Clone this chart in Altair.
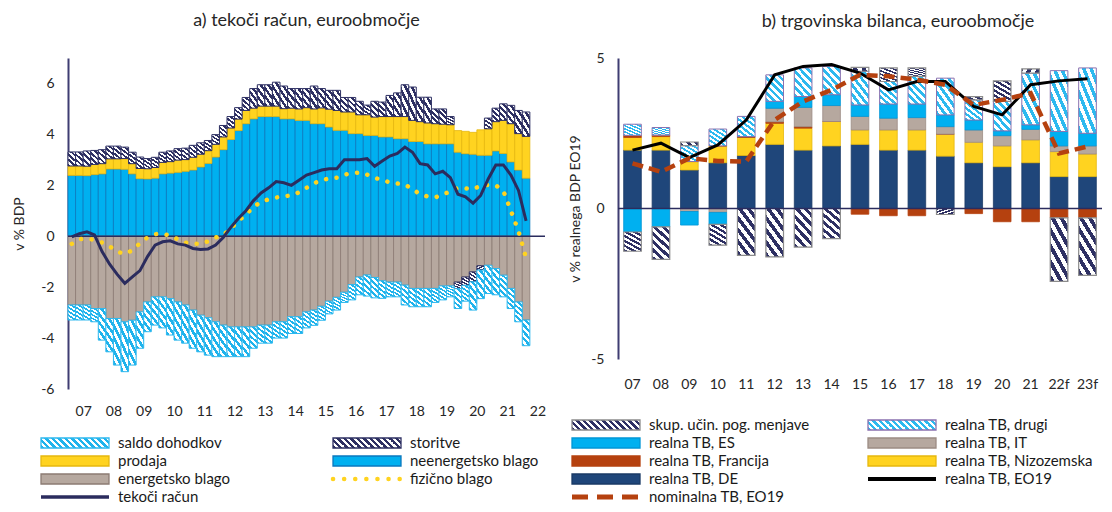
import json
import altair as alt
import pandas as pd

FONT = "Lato"
TXT = "#262626"
NAVY = "#2B2C5E"

# ---------------- a) tekoči račun, quarterly 2007Q1-2022Q1 ----------------
quarters = [f"{y}Q{q}" for y in range(2007, 2023) for q in (1, 2, 3, 4)][:61]
year_labels_a = ["07", "08", "09", "10", "11", "12", "13", "14", "15", "16",
                 "17", "18", "19", "20", "21", "22"]

neenergetsko_blago = [2.39, 2.39, 2.38, 2.42, 2.45, 2.64, 2.64, 2.63, 2.45, 2.26,
                      2.25, 2.28, 2.45, 2.48, 2.51, 2.55, 2.60, 2.72, 2.86, 3.11,
                      3.40, 3.80, 4.15, 4.42, 4.61, 4.70, 4.70, 4.70, 4.61, 4.61,
                      4.55, 4.55, 4.42, 4.42, 4.29, 4.16, 4.16, 4.03, 4.03, 3.96,
                      3.96, 3.90, 3.90, 3.83, 3.83, 3.72, 3.72, 3.63, 3.63, 3.63,
                      3.63, 3.30, 3.24, 3.22, 3.18, 3.18, 3.35, 3.25, 2.92, 2.60,
                      2.28]
prodaja = [0.37, 0.37, 0.37, 0.40, 0.40, 0.40, 0.40, 0.42, 0.40, 0.40,
           0.40, 0.42, 0.45, 0.45, 0.48, 0.46, 0.50, 0.50, 0.50, 0.50,
           0.50, 0.45, 0.45, 0.52, 0.42, 0.41, 0.41, 0.41, 0.40, 0.42,
           0.45, 0.50, 0.58, 0.62, 0.70, 0.78, 0.72, 0.85, 0.74, 0.81,
           0.72, 0.80, 0.80, 0.87, 0.87, 0.83, 0.78, 0.82, 0.79, 0.77,
           0.75, 0.85, 0.88, 0.86, 1.00, 1.04, 1.15, 1.30, 1.50, 1.43,
           1.64]
storitve = [0.55, 0.55, 0.60, 0.55, 0.55, 0.50, 0.50, 0.45, 0.45, 0.45,
            0.40, 0.40, 0.40, 0.42, 0.45, 0.45, 0.47, 0.45, 0.40, 0.38,
            0.45, 0.45, 0.45, 0.51, 0.77, 0.84, 0.84, 0.94, 0.89, 0.77,
            0.80, 0.75, 0.90, 0.76, 0.74, 0.79, 0.57, 0.57, 0.53, 0.38,
            0.62, 0.57, 0.83, 0.93, 1.25, 1.31, 0.96, 1.01, 0.58, 0.60,
            0.32, -0.26, -0.33, -0.39, -0.17, 0.42, 0.53, 0.65, 0.72, 0.91,
            0.96]
energetsko_blago = [-2.70, -2.70, -2.70, -2.84, -2.84, -3.23, -3.23, -3.36, -3.30, -2.97,
                    -2.58, -2.38, -2.38, -2.45, -2.58, -2.70, -2.90, -3.10, -3.20, -3.36,
                    -3.49, -3.56, -3.56, -3.56, -3.56, -3.49, -3.49, -3.36, -3.36, -3.16,
                    -3.16, -2.97, -2.90, -2.75, -2.55, -2.40, -2.20, -1.90, -1.60, -1.52,
                    -1.62, -1.75, -1.80, -1.80, -1.92, -2.05, -2.05, -2.05, -2.05, -1.95,
                    -1.95, -1.80, -1.60, -1.40, -1.16, -1.14, -1.27, -1.53, -2.05, -2.58,
                    -3.29]
saldo_dohodkov = [-0.59, -0.59, -0.59, -0.52, -1.24, -1.31, -1.83, -1.96, -1.76, -1.43,
                  -1.17, -1.11, -1.22, -1.43, -1.50, -1.50, -1.50, -1.44, -1.47, -1.37,
                  -1.24, -1.17, -1.17, -1.17, -0.84, -0.71, -0.71, -0.64, -0.64, -0.66,
                  -0.66, -0.63, -0.60, -0.55, -0.50, -0.50, -0.40, -0.60, -0.70, -0.83,
                  -0.80, -0.69, -0.58, -0.58, -0.78, -0.72, -0.72, -0.72, -0.55, -0.55,
                  -0.43, -0.78, -0.62, -1.11, -1.12, -1.11, -1.03, -0.85, -0.79, -0.78,
                  -1.01]
fizicno_blago = [-0.30, -0.12, -0.08, -0.15, -0.25, -0.40, -0.60, -0.70, -0.55, -0.28,
                 -0.05, 0.08, 0.10, 0.02, -0.12, -0.25, -0.30, -0.30, -0.20, -0.05,
                 0.05, 0.30, 0.60, 0.85, 1.15, 1.35, 1.45, 1.52, 1.57, 1.60,
                 1.72, 1.90, 2.08, 2.20, 2.27, 2.30, 2.42, 2.47, 2.50, 2.42,
                 2.30, 2.20, 2.12, 2.07, 2.03, 1.85, 1.65, 1.56, 1.52, 1.65,
                 1.75, 1.90, 1.88, 1.85, 1.98, 2.02, 2.00, 1.78, 1.00, 0.20,
                 -0.85]
tekoci_racun = [-0.03, 0.10, 0.17, 0.05, -0.60, -1.10, -1.50, -1.85, -1.60, -1.35,
                -0.80, -0.35, -0.22, -0.18, -0.30, -0.35, -0.48, -0.52, -0.50, -0.35,
                -0.05, 0.35, 0.70, 1.00, 1.40, 1.70, 1.90, 2.15, 2.10, 2.00,
                2.20, 2.40, 2.50, 2.60, 2.65, 2.65, 3.00, 3.00, 3.00, 3.05,
                2.75, 2.95, 3.15, 3.25, 3.50, 3.30, 2.85, 2.80, 2.45, 2.55,
                2.30, 1.65, 1.55, 1.30, 1.60, 2.25, 2.80, 2.80, 2.40, 1.80,
                0.60]

# ---------------- b) trgovinska bilanca, annual ----------------
years_b = ["07", "08", "09", "10", "11", "12", "13", "14", "15", "16", "17",
           "18", "19", "20", "21", "22f", "23f"]
tb_de = [1.94, 1.94, 1.28, 1.52, 1.76, 2.13, 1.94, 2.08, 2.13, 1.94, 1.94, 1.74, 1.52, 1.39, 1.52, 1.06, 1.06]
tb_nl = [0.42, 0.45, 0.28, 0.56, 0.60, 0.70, 0.73, 0.81, 0.48, 0.67, 0.67, 0.73, 0.68, 0.69, 0.76, 0.83, 0.75]
tb_fr = [0.07, 0.05, 0.00, 0.00, 0.03, 0.05, 0.05, 0.00, -0.19, -0.24, -0.24, 0.00, -0.17, -0.44, -0.44, -0.31, -0.31]
tb_it = [0.00, 0.00, -0.10, -0.13, 0.00, 0.45, 0.64, 0.53, 0.45, 0.39, 0.41, 0.25, 0.41, 0.34, 0.35, 0.19, 0.27]
tb_es = [-0.78, -0.61, -0.45, -0.40, 0.00, 0.23, 0.36, 0.36, 0.38, 0.47, 0.45, 0.39, 0.33, 0.16, 0.15, 0.48, 0.42]
tb_drugi = [0.37, 0.25, 0.53, 0.56, 0.67, 0.88, 0.95, 0.94, 1.12, 0.75, 0.92, 1.22, 0.67, 0.98, 1.72, 2.02, 2.17]
skup_ucin = [-0.64, -1.08, 0.12, -0.69, -1.56, -1.61, -1.28, -1.00, 0.13, 0.45, 0.28, -0.20, 0.11, 0.68, 0.14, -2.11, -1.91]
realna_eo19 = [1.94, 2.17, 1.69, 2.11, 2.94, 4.44, 4.72, 4.78, 4.50, 3.94, 4.22, 4.22, 3.39, 3.11, 4.11, 4.24, 4.31]
nominalna_eo19 = [1.50, 1.22, 1.67, 1.58, 1.56, 2.94, 3.56, 3.94, 4.44, 4.39, 4.28, 4.11, 3.44, 3.61, 3.83, 1.83, 2.06]

# ---------------- legend entries ----------------
legend_labels = ["saldo dohodkov", "storitve", "prodaja", "neenergetsko blago",
                 "energetsko blago", "fizično blago", "tekoči račun",
                 "skup. učin. pog. menjave", "realna TB, drugi", "realna TB, ES",
                 "realna TB, IT", "realna TB, Francija", "realna TB, Nizozemska",
                 "realna TB, DE", "realna TB, EO19", "nominalna TB, EO19"]
legend_cols = [0, 1, 0, 1, 0, 1, 0, 2, 3, 2, 3, 2, 3, 2, 3, 2]
legend_rows = [1, 1, 2, 2, 3, 3, 4, 0, 0, 1, 1, 2, 2, 3, 3, 4]

# ---------------- styles ----------------
C_LBLUE = "#00B0F0"
C_YEL = "#FFD320"
C_TAUPE = "#B6A89F"
C_RUST = "#B5410F"
C_DE = "#1F467A"
C_HNAVY = "#2E3063"


def hatch(c1, c2, n, r):
    s = (1 + r) / (1 + r * r)
    stops = []
    for k in range(n):
        a, m, b = k / n, (k + 0.5) / n, (k + 1) / n
        stops += [alt.GradientStop(offset=a, color=c1), alt.GradientStop(offset=m, color=c1),
                  alt.GradientStop(offset=m, color=c2), alt.GradientStop(offset=b, color=c2)]
    return alt.LinearGradient(gradient="linear", stops=stops, x1=0, y1=1, x2=s, y2=1 - s * r)


# ================= panel a =================
qt = [2007 + k / 4 for k in range(len(quarters))]
comp_a = [("neenergetsko blago", neenergetsko_blago, 1), ("energetsko blago", energetsko_blago, 2),
          ("prodaja", prodaja, 3), ("storitve", storitve, 4), ("saldo dohodkov", saldo_dohodkov, 5)]
rows = []
for name, vals, o in comp_a:
    for q, t, v in zip(quarters, qt, vals):
        rows.append({"q": q, "t0": t, "t1": t + 0.25, "series": name, "ord": o, "value": v})
df_a = pd.DataFrame(rows)
lines_a = pd.DataFrame({"q": quarters, "tc": [t + 0.125 for t in qt],
                        "tekoci": tekoci_racun, "fizicno": fizicno_blago})

xa_scale = alt.Scale(domain=[2007, 2022.75], nice=False, zero=False)
xa_axis = alt.Axis(values=[2007.5 + k for k in range(len(year_labels_a))],
                   labelExpr=json.dumps(year_labels_a) + "[floor(datum.value) - 2007]",
                   grid=False, ticks=False, domain=False, labelPadding=15,
                   labelFont=FONT, labelFontSize=14, labelColor=TXT, title=None)
ya_scale = alt.Scale(domain=[-6, 7], nice=False, zero=False)
ya_axis = alt.Axis(values=[-6, -4, -2, 0, 2, 4, 6], labelExpr="toString(datum.value)",
                   grid=False, ticks=False,
                   domainColor="#3F3D72", domainWidth=2, labelPadding=14,
                   labelFont=FONT, labelFontSize=14, labelColor=TXT,
                   title="v % BDP", titleFont=FONT, titleFontSize=14, titleFontWeight="normal",
                   titleColor=TXT, titlePadding=14)

base_a = alt.Chart(df_a).transform_stack(
    stack="value", groupby=["q"], as_=["y0", "y1"], offset="zero",
    sort=[alt.SortField("ord", "ascending")])


def bar_a(name, **mk):
    return base_a.transform_filter(alt.datum.series == name).mark_bar(**mk).encode(
        x=alt.X("t0:Q", scale=xa_scale, axis=xa_axis),
        x2="t1:Q",
        y=alt.Y("y0:Q", scale=ya_scale, axis=ya_axis),
        y2="y1:Q")


ex_a = alt.X("tc:Q", scale=xa_scale, axis=xa_axis)
layers_a = [
    bar_a("neenergetsko blago", fill=C_LBLUE, stroke="#0A78BE", strokeWidth=0.8),
    bar_a("energetsko blago", fill=C_TAUPE, stroke="#8C7B73", strokeWidth=0.8),
    bar_a("prodaja", fill=C_YEL, stroke="#E6B80E", strokeWidth=0.8),
    bar_a("storitve", fill=hatch(C_HNAVY, "#FFFFFF", 4, 2.0), stroke=C_HNAVY, strokeWidth=1),
    bar_a("saldo dohodkov", fill=hatch("#1FB3EC", "#FFFFFF", 5, 3.0), stroke="#2DB8EE", strokeWidth=1),
    alt.Chart(pd.DataFrame({"z": [0]})).mark_rule(color=NAVY, strokeWidth=1.6).encode(
        y=alt.Y("z:Q", scale=ya_scale, axis=ya_axis)),
    alt.Chart(lines_a).mark_line(color=C_YEL, strokeWidth=4.5, strokeDash=[0.1, 10.5],
                                 strokeCap="round").encode(
        x=ex_a, y=alt.Y("fizicno:Q", scale=ya_scale, axis=ya_axis)),
    alt.Chart(lines_a).mark_line(color=NAVY, strokeWidth=3).encode(
        x=ex_a, y=alt.Y("tekoci:Q", scale=ya_scale, axis=ya_axis)),
]
left = alt.layer(*layers_a).properties(
    width=477, height=331,
    title=alt.TitleParams("a) tekoči račun, euroobmočje", font=FONT, fontSize=18,
                          fontWeight="normal", color=TXT, anchor="middle", frame="group",
                          offset=28))

# ================= panel b =================
comp_b = [("realna TB, DE", tb_de, 1), ("realna TB, Nizozemska", tb_nl, 2),
          ("realna TB, Francija", tb_fr, 3), ("realna TB, IT", tb_it, 4),
          ("realna TB, ES", tb_es, 5), ("realna TB, drugi", tb_drugi, 6),
          ("skup. učin. pog. menjave", skup_ucin, 7)]
rows = []
for name, vals, o in comp_b:
    for yr, v in zip(years_b, vals):
        rows.append({"year": yr, "series": name, "ord": o, "value": v})
df_b = pd.DataFrame(rows)
lines_b = pd.DataFrame({"year": years_b, "real": realna_eo19, "nom": nominalna_eo19})

xb = alt.X("year:N", scale=alt.Scale(domain=years_b, paddingInner=0.38, paddingOuter=0.2),
           axis=alt.Axis(labelAngle=0, grid=False, ticks=False, domain=False, labelPadding=18,
                         labelFont=FONT, labelFontSize=14, labelColor=TXT, title=None))
yb_scale = alt.Scale(domain=[-5, 5], nice=False, zero=False)
yb_axis = alt.Axis(values=[-5, 0, 5], labelExpr="toString(datum.value)", grid=False,
                   ticks=False, domainColor="#3F3D72",
                   domainWidth=2, labelPadding=14, labelFont=FONT, labelFontSize=14,
                   labelColor=TXT, title="v % realnega  BDP EO19", titleFont=FONT,
                   titleFontSize=14, titleFontWeight="normal", titleColor=TXT, titlePadding=8)

base_b = alt.Chart(df_b).transform_stack(
    stack="value", groupby=["year"], as_=["y0", "y1"], offset="zero",
    sort=[alt.SortField("ord", "ascending")])


def bar_b(name, **mk):
    return base_b.transform_filter(alt.datum.series == name).mark_bar(**mk).encode(
        x=xb, y=alt.Y("y0:Q", scale=yb_scale, axis=yb_axis), y2="y1:Q")


layers_b = [
    bar_b("realna TB, DE", fill=C_DE, stroke="#1A3A66", strokeWidth=0.8),
    bar_b("realna TB, Nizozemska", fill=C_YEL, stroke="#E6B80E", strokeWidth=0.8),
    bar_b("realna TB, Francija", fill=C_RUST, stroke=C_RUST, strokeWidth=0.8),
    bar_b("realna TB, IT", fill=C_TAUPE, stroke="#9C8C84", strokeWidth=0.8),
    bar_b("realna TB, ES", fill=C_LBLUE, stroke="#0096D6", strokeWidth=0.8),
    bar_b("realna TB, drugi", fill=hatch("#2DB9EF", "#FFFFFF", 6, 1.5), stroke="#8A72B0", strokeWidth=1),
    bar_b("skup. učin. pog. menjave", fill=hatch(C_HNAVY, "#FFFFFF", 6, 2.0), stroke="#8C8C8C", strokeWidth=1.2),
    alt.Chart(pd.DataFrame({"z": [0]})).mark_rule(color=NAVY, strokeWidth=1.6).encode(
        y=alt.Y("z:Q", scale=yb_scale, axis=yb_axis)),
    alt.Chart(lines_b).mark_line(color="#000000", strokeWidth=3).encode(
        x=xb, y=alt.Y("real:Q", scale=yb_scale, axis=yb_axis)),
    alt.Chart(lines_b).mark_line(color=C_RUST, strokeWidth=4.5, strokeDash=[11, 6]).encode(
        x=xb, y=alt.Y("nom:Q", scale=yb_scale, axis=yb_axis)),
]
right = alt.layer(*layers_b).properties(
    width=484, height=301,
    title=alt.TitleParams("b) trgovinska bilanca, euroobmočje", font=FONT, fontSize=18,
                          fontWeight="normal", color=TXT, anchor="middle", frame="group",
                          offset=20, dx=38))

# ================= legend (origin aligned with the left plot area) =================
leg = pd.DataFrame({"label": legend_labels, "col": legend_cols, "row": legend_rows})
lx = alt.X("col:Q", scale=alt.Scale(domain=[0, 1, 2, 3], range=[-27, 265, 504, 800]), axis=None)
ly = alt.Y("row:Q", scale=alt.Scale(domain=[0, 4], range=[3, 75]), axis=None)
SW = 68


def sw_rect(label, fill, stroke):
    return alt.Chart(leg).transform_filter(alt.datum.label == label).mark_rect(
        fill=fill, stroke=stroke, strokeWidth=1.3, x2Offset=SW, yOffset=-5, y2Offset=5
    ).encode(x=lx, x2="col:Q", y=ly, y2="row:Q")


def sw_line(label, color, width, **kw):
    return alt.Chart(leg).transform_filter(alt.datum.label == label).mark_rule(
        color=color, strokeWidth=width, x2Offset=SW, **kw
    ).encode(x=lx, x2="col:Q", y=ly)


r_sw = 10 / SW
legend_layers = [
    sw_rect("saldo dohodkov", hatch("#1FB3EC", "#FFFFFF", 12, r_sw), "#2DB8EE"),
    sw_rect("storitve", hatch(C_HNAVY, "#FFFFFF", 12, r_sw), C_HNAVY),
    sw_rect("prodaja", C_YEL, "#E6B80E"),
    sw_rect("neenergetsko blago", C_LBLUE, "#0A78BE"),
    sw_rect("energetsko blago", C_TAUPE, "#8C7B73"),
    sw_line("fizično blago", C_YEL, 4.5, strokeDash=[0.1, 11], strokeCap="round"),
    sw_line("tekoči račun", NAVY, 3.5),
    sw_rect("skup. učin. pog. menjave", hatch(C_HNAVY, "#FFFFFF", 12, r_sw), "#8C8C8C"),
    sw_rect("realna TB, drugi", hatch("#2DB9EF", "#FFFFFF", 12, r_sw), "#8A72B0"),
    sw_rect("realna TB, ES", C_LBLUE, "#0096D6"),
    sw_rect("realna TB, IT", C_TAUPE, "#9C8C84"),
    sw_rect("realna TB, Francija", C_RUST, C_RUST),
    sw_rect("realna TB, Nizozemska", C_YEL, "#E6B80E"),
    sw_rect("realna TB, DE", C_DE, "#1A3A66"),
    sw_line("realna TB, EO19", "#000000", 4),
    sw_line("nominalna TB, EO19", C_RUST, 5, strokeDash=[16, 9]),
    alt.Chart(leg).mark_text(align="left", baseline="middle", dx=77, font=FONT,
                             fontSize=15, color="#1A1A1A").encode(x=lx, y=ly, text="label:N"),
]
legend = alt.layer(*legend_layers).properties(width=477, height=76)

chart = alt.vconcat(alt.hconcat(left, right, spacing=22), legend, spacing=0).properties(
    padding={"left": 4, "top": 4, "right": 0, "bottom": 0}).configure_view(stroke=None)

chart.save("out.html", embed_options={"renderer": "svg", "actions": False})
